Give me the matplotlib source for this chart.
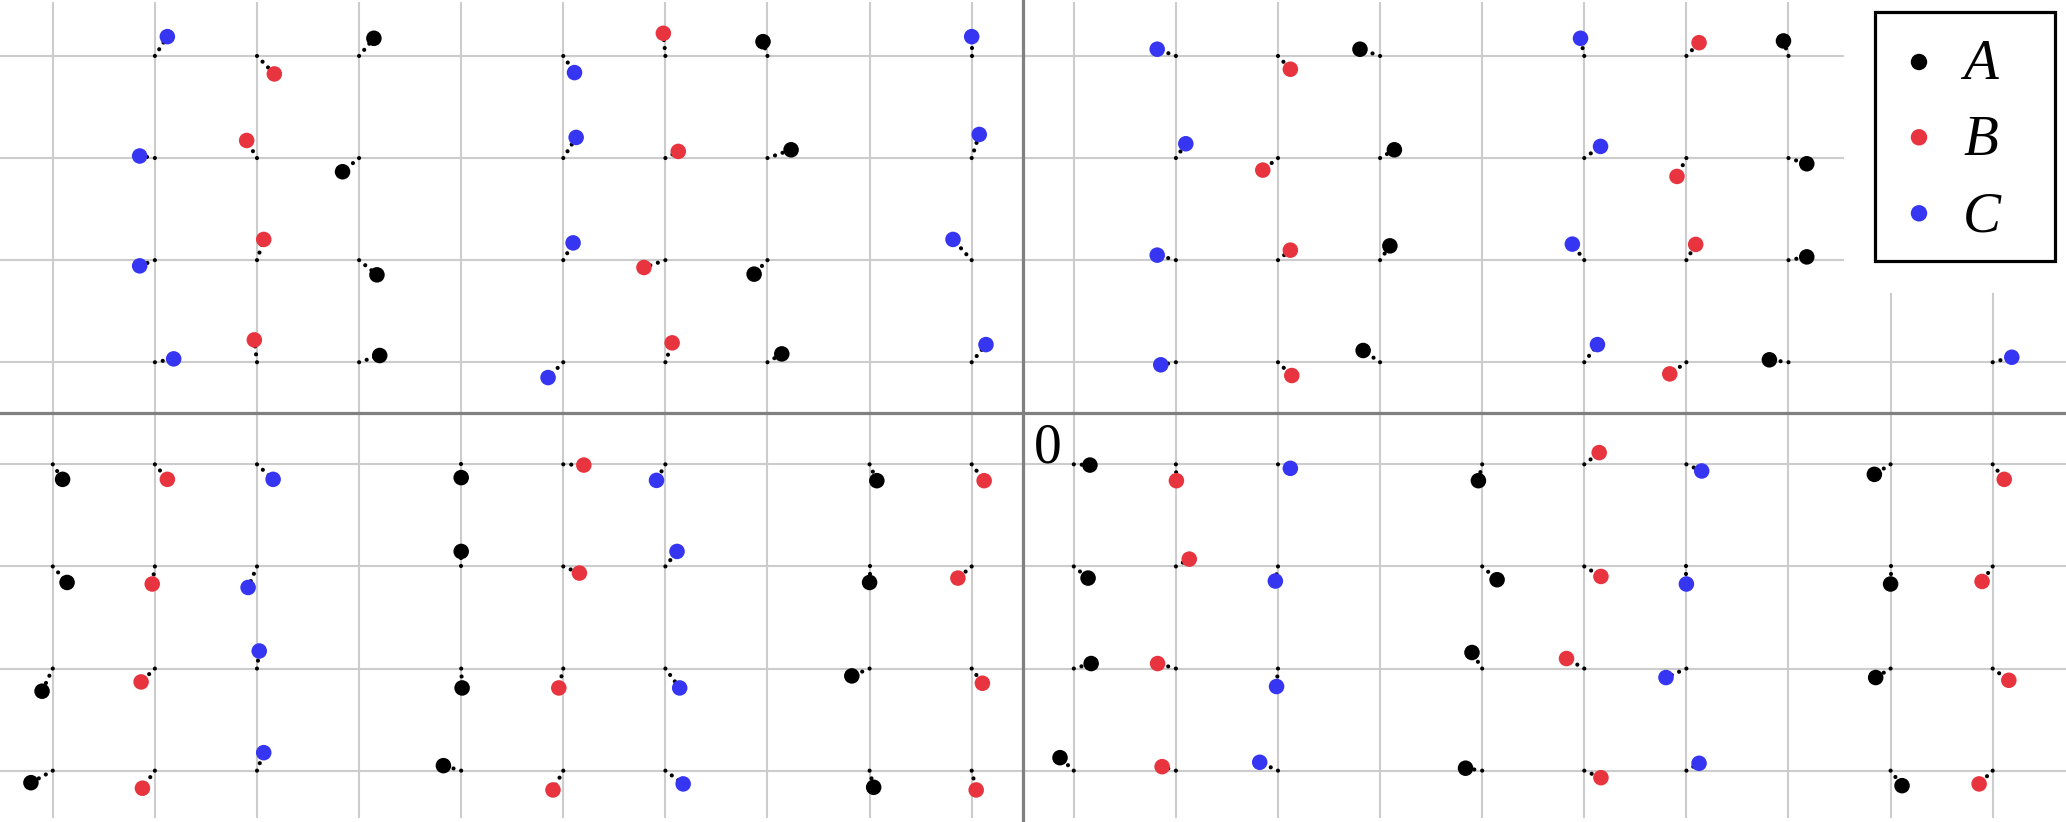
import numpy as np
import matplotlib
matplotlib.use("Agg")
import matplotlib.pyplot as plt
from matplotlib.patches import Rectangle

# ---------------- data ----------------
series_names = ["A", "B", "C"]
series_colors = ["#000000", "#e8343f", "#3535f2"]

# (lattice x, lattice y, offset dx, offset dy)
A_points = [
    (-6.5, 3.5, 0.145, 0.173), (-2.5, 3.5, -0.044, 0.140), (3.5, 3.5, -0.197, 0.066), (7.5, 3.5, -0.049, 0.147),
    (-6.5, 2.5, -0.162, -0.134), (-2.5, 2.5, 0.231, 0.081), (3.5, 2.5, 0.140, 0.081), (7.5, 2.5, 0.179, -0.056),
    (-6.5, 1.5, 0.175, -0.144), (-2.5, 1.5, -0.131, -0.137), (3.5, 1.5, 0.096, 0.140), (7.5, 1.5, 0.179, 0.032),
    (-6.5, 0.5, 0.202, 0.066), (-2.5, 0.5, 0.140, 0.082), (3.5, 0.5, -0.166, 0.115), (7.5, 0.5, -0.187, 0.024),
    (-9.5, -0.5, 0.096, -0.147), (-5.5, -0.5, 0.0, -0.130), (-1.5, -0.5, 0.071, -0.160),
    (0.5, -0.5, 0.158, -0.007), (4.5, -0.5, -0.037, -0.160), (8.5, -0.5, -0.159, -0.098),
    (-9.5, -1.5, 0.140, -0.157), (-5.5, -1.5, 0.0, 0.147), (-1.5, -1.5, 0.0, -0.157),
    (0.5, -1.5, 0.140, -0.114), (4.5, -1.5, 0.146, -0.130), (8.5, -1.5, 0.0, -0.172),
    (-9.5, -2.5, -0.105, -0.222), (-5.5, -2.5, 0.009, -0.190), (-1.5, -2.5, -0.174, -0.072),
    (0.5, -2.5, 0.170, 0.049), (4.5, -2.5, -0.100, 0.157), (8.5, -2.5, -0.146, -0.088),
    (-9.5, -3.5, -0.214, -0.118), (-5.5, -3.5, -0.174, 0.049), (-1.5, -3.5, 0.040, -0.163),
    (0.5, -3.5, -0.135, 0.127), (4.5, -3.5, -0.163, 0.024), (8.5, -3.5, 0.112, -0.147),
]
B_points = [
    (-7.5, 3.5, 0.170, -0.176), (-3.5, 3.5, -0.020, 0.222), (2.5, 3.5, 0.121, -0.130), (6.5, 3.5, 0.124, 0.130),
    (-7.5, 2.5, -0.101, 0.172), (-3.5, 2.5, 0.126, 0.065), (2.5, 2.5, -0.149, -0.118), (6.5, 2.5, -0.092, -0.180),
    (-7.5, 1.5, 0.066, 0.203), (-3.5, 1.5, -0.210, -0.072), (2.5, 1.5, 0.121, 0.098), (6.5, 1.5, 0.091, 0.154),
    (-7.5, 0.5, -0.026, 0.219), (-3.5, 0.5, 0.066, 0.190), (2.5, 0.5, 0.135, -0.130), (6.5, 0.5, -0.163, -0.114),
    (-8.5, -0.5, 0.122, -0.147), (-4.5, -0.5, 0.201, -0.007), (-0.5, -0.5, 0.122, -0.160),
    (1.5, -0.5, 0.005, -0.160), (5.5, -0.5, 0.146, 0.115), (9.5, -0.5, 0.113, -0.147),
    (-8.5, -1.5, -0.026, -0.172), (-4.5, -1.5, 0.158, -0.065), (-0.5, -1.5, -0.135, -0.114),
    (1.5, -1.5, 0.131, 0.072), (5.5, -1.5, 0.163, -0.098), (9.5, -1.5, -0.104, -0.147),
    (-8.5, -2.5, -0.135, -0.131), (-4.5, -2.5, -0.044, -0.190), (-0.5, -2.5, 0.105, -0.144),
    (1.5, -2.5, -0.179, 0.049), (5.5, -2.5, -0.174, 0.098), (9.5, -2.5, 0.158, -0.115),
    (-8.5, -3.5, -0.122, -0.172), (-4.5, -3.5, -0.101, -0.189), (-0.5, -3.5, 0.044, -0.189),
    (1.5, -3.5, -0.135, 0.039), (5.5, -3.5, 0.163, -0.069), (9.5, -3.5, -0.133, -0.130),
]
C_points = [
    (-8.5, 3.5, 0.122, 0.189), (-4.5, 3.5, 0.110, -0.163), (-0.5, 3.5, 0.0, 0.189), (1.5, 3.5, -0.183, 0.066), (5.5, 3.5, -0.037, 0.173),
    (-8.5, 2.5, -0.149, 0.020), (-4.5, 2.5, 0.126, 0.202), (-0.5, 2.5, 0.074, 0.231), (1.5, 2.5, 0.097, 0.140), (5.5, 2.5, 0.159, 0.114),
    (-8.5, 1.5, -0.149, -0.056), (-4.5, 1.5, 0.096, 0.169), (-0.5, 1.5, -0.183, 0.203), (1.5, 1.5, -0.183, 0.049), (5.5, 1.5, -0.117, 0.157),
    (-8.5, 0.5, 0.184, 0.033), (-4.5, 0.5, -0.149, -0.150), (-0.5, 0.5, 0.140, 0.173), (1.5, 0.5, -0.148, -0.025),
    (5.5, 0.5, 0.129, 0.173), (9.5, 0.5, 0.187, 0.049),
    (-7.5, -0.5, 0.158, -0.147), (-3.5, -0.5, -0.087, -0.157), (2.5, -0.5, 0.121, -0.039), (6.5, -0.5, 0.150, -0.065),
    (-7.5, -1.5, -0.087, -0.206), (-3.5, -1.5, 0.114, 0.147), (2.5, -1.5, -0.026, -0.143), (6.5, -1.5, 0.0, -0.172),
    (-7.5, -2.5, 0.022, 0.172), (-3.5, -2.5, 0.140, -0.190), (2.5, -2.5, -0.014, -0.176), (6.5, -2.5, -0.200, -0.088),
    (-7.5, -3.5, 0.066, 0.176), (-3.5, -3.5, 0.174, -0.130), (2.5, -3.5, -0.179, 0.082), (6.5, -3.5, 0.124, 0.072),
]
series_points = [A_points, B_points, C_points]

grid_x = np.arange(-9.5, 10.0, 1.0)
grid_y = np.arange(-3.5, 4.0, 1.0)
origin_label = "0"

# ---------------- figure ----------------
W, H, DPI = 2066, 822, 100
fig = plt.figure(figsize=(W / DPI, H / DPI), dpi=DPI)
ax = fig.add_axes([0, 0, 1, 1])
ax.set_xlim(-10.017, 10.218)
ax.set_ylim(-4.003, 4.048)
ax.set_axis_off()

grid_color = "#cccccc"
ax.vlines(grid_x, -3.96, 4.03, colors=grid_color, lw=1.5, zorder=1)
ax.hlines(grid_y, -10.017, 10.218, colors=grid_color, lw=1.5, zorder=1)

# white area behind the legend
ax.add_patch(Rectangle((1844 / W, 1 - 293 / H), 1 - 1844 / W, 293 / H,
                       transform=ax.transAxes, facecolor="white", edgecolor="none", zorder=1.5))

# axes
ax.axhline(0, color="#808080", lw=2.3, zorder=2)
ax.axvline(0, color="#808080", lw=2.3, zorder=2)

# points with dotted connectors
for pts, col in zip(series_points, series_colors):
    arr = np.array(pts)
    lx, ly, dx, dy = arr[:, 0], arr[:, 1], arr[:, 2], arr[:, 3]
    for x0, y0, ddx, ddy in zip(lx, ly, dx, dy):
        ax.plot([x0, x0 + ddx], [y0, y0 + ddy], color="black", lw=3.0,
                dashes=(0.01, 1.9), dash_capstyle="round", zorder=2.5)
    ax.scatter(lx + dx, ly + dy, s=125, color=col, edgecolors="none", zorder=3)

# origin label
ax.text(0.248, -0.48, origin_label, fontsize=40, family="Liberation Serif",
        ha="center", va="baseline", zorder=4)

# legend
ax.add_patch(Rectangle((1874.5 / W, 1 - 261 / H), 180 / W, 249 / H, transform=ax.transAxes,
                       facecolor="white", edgecolor="black", lw=2.3, zorder=4))
row_centers = [62, 137.3, 213.3]
row_baselines = [79.3, 155.3, 231.3]
for name, col, rc, rb in zip(series_names, series_colors, row_centers, row_baselines):
    ax.scatter([1919 / W], [1 - rc / H], s=140, color=col, edgecolors="none",
               transform=ax.transAxes, zorder=5)
    ax.text(1963 / W, 1 - rb / H, name, transform=ax.transAxes, fontsize=41,
            family="Liberation Serif", style="italic", ha="left", va="baseline", zorder=5)

fig.savefig("out.png", dpi=DPI)
